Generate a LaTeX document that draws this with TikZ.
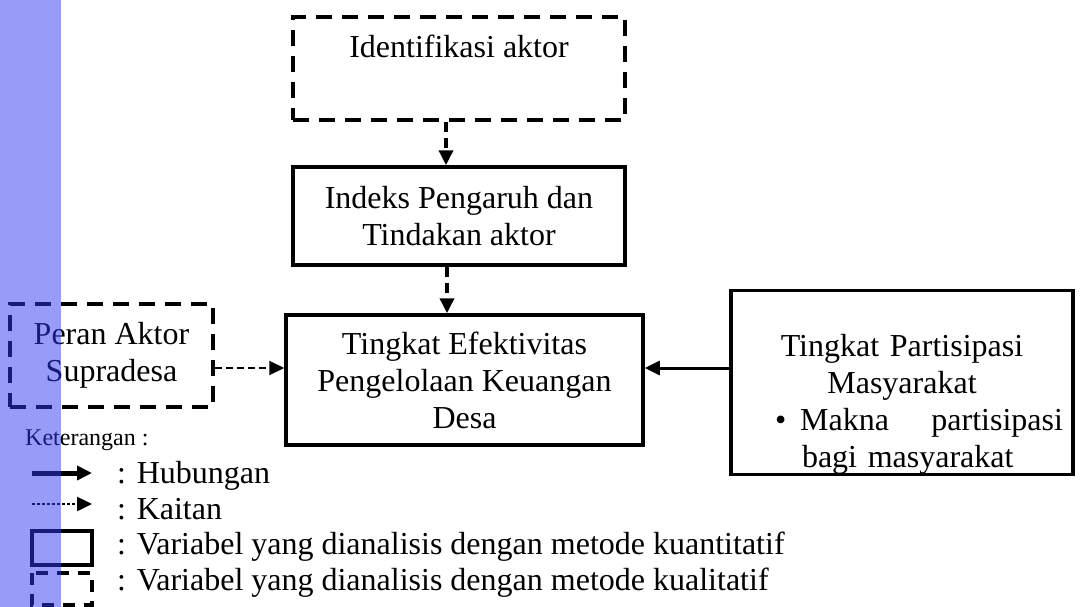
\documentclass[tikz,border=0pt]{standalone}
\usepackage{fontspec}
\setmainfont{Liberation Serif}
\usetikzlibrary{arrows.meta,positioning}
\definecolor{bandblue}{RGB}{50,55,240}

\begin{document}
\begin{tikzpicture}[x=1pt,y=-1pt,
  every node/.style={font=\fontsize{32}{37}\selectfont, inner sep=0pt},
  kuanbox/.style={draw, line width=3.5pt, align=center},
  kualbox/.style={draw, line width=3.5pt, dash pattern=on 16pt off 10pt, align=center},
  hub/.style={line width=3pt},
  kait/.style={line width=3.5pt, dash pattern=on 10pt off 6pt},
  kaittipis/.style={line width=2pt, dash pattern=on 7pt off 4pt},
  ket/.style={anchor=west, font=\fontsize{32}{37}\selectfont},
  >={Triangle[length=15pt,width=14pt]}]
\useasboundingbox (0,0) rectangle (1081,607);
% kotak variabel
\node[kualbox, minimum width=332, minimum height=103] (ident) at (459,68.5) {Identifikasi aktor\rule[-45pt]{0pt}{1pt}};
\node[kuanbox, minimum width=332, minimum height=98] (indeks) at (459,216) {Indeks Pengaruh dan\\Tindakan aktor};
\node[kuanbox, minimum width=357, minimum height=130] (efek) at (464.5,380) {Tingkat Efektivitas\\Pengelolaan Keuangan\\Desa};
\node[kualbox, minimum width=203, minimum height=103] (peran) at (111.5,355.5) {Peran Aktor\\Supradesa};
\node[kuanbox, text width=330pt, minimum width=342, minimum height=177] (partisipasi) at (902,382.5)
  {\makebox[330pt]{\rule{0pt}{66pt}Tingkat Partisipasi}\\\makebox[330pt]{Masyarakat}\\
   \makebox[330pt][l]{\hspace{38pt}\textbullet\hspace{14pt}Makna\hfill partisipasi\hspace{4pt}}\\
   \makebox[330pt][l]{\hspace{65pt}bagi masyarakat\hfill}};
% panah
\draw[kait,->] ([xshift=-13pt]ident.south) -- ([xshift=-13pt]ident.south |- indeks.north);
\draw[kait,->] ([xshift=-12pt]indeks.south) -- ([xshift=-12pt]indeks.south |- efek.north);
\draw[kaittipis,->] ([yshift=-12.5pt]peran.east) -- ([yshift=12pt]efek.west);
\draw[hub,->] ([yshift=14.5pt]partisipasi.west) -- ([yshift=12pt]efek.east);
% keterangan
\node[anchor=west, font=\fontsize{24}{30}\selectfont] (keterangan) at (25,440) {Keterangan :};
\coordinate (hubA) at (32,473);
\coordinate (hubB) at (92,473);
\draw[line width=5pt,->] (hubA) -- (hubB);
\node[ket] (hubungan) at (117,476) {: Hubungan};
\coordinate (kaitA) at (32,504);
\coordinate (kaitB) at (92,504);
\draw[line width=2.5pt, dash pattern=on 3pt off 2pt,->] (kaitA) -- (kaitB);
\node[ket] (kaitan) at (117,509) {: Kaitan};
\draw[line width=3.5pt] (32,531) rectangle (92,565);
\node[ket] (kuantitatif) at (117,547) {: Variabel yang dianalisis dengan metode kuantitatif};
\draw[line width=3.5pt, dash pattern=on 12pt off 9pt] (32,573) rectangle (92,605);
\node[ket] (kualitatif) at (117,583) {: Variabel yang dianalisis dengan metode kualitatif};
% pita biru
\fill[bandblue, opacity=0.5] (0,0) rectangle (61,607);
\end{tikzpicture}
\end{document}
